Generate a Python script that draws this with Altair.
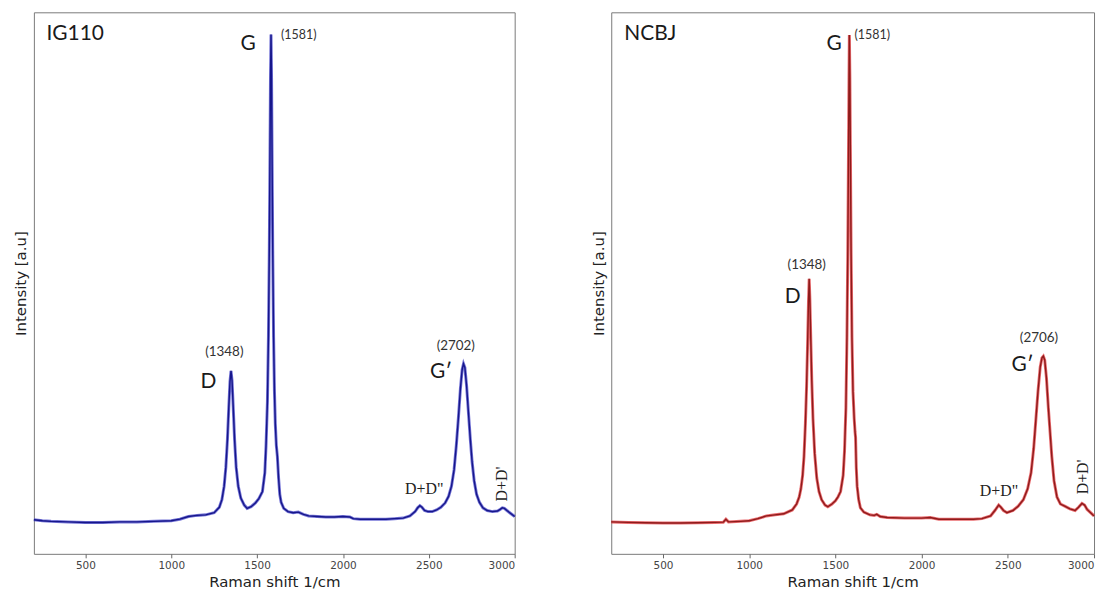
import altair as alt
import pandas as pd

# ---------------- data ----------------
ig110_shift = [200, 250, 300, 400, 500, 600, 700, 800, 900, 1000,
               1050, 1100, 1150, 1200, 1250, 1280, 1295, 1308, 1318, 1327,
               1335, 1342, 1348, 1354, 1361, 1369, 1378, 1390, 1405, 1425,
               1442, 1465, 1490, 1510, 1531, 1545, 1552, 1560, 1566, 1571,
               1575, 1578, 1581, 1584, 1587, 1591, 1596, 1601, 1606, 1612,
               1618, 1625, 1632, 1640, 1655, 1680, 1710, 1740, 1770, 1800,
               1850, 1900, 1950, 2000, 2040, 2060, 2100, 2150, 2200, 2250,
               2300, 2350, 2390, 2420, 2435, 2448, 2460, 2475, 2495, 2520,
               2545, 2570, 2595, 2615, 2632, 2647, 2660, 2672, 2684, 2694,
               2702, 2710, 2720, 2732, 2742, 2752, 2764, 2778, 2795, 2815,
               2840, 2870, 2900, 2915, 2928, 2940, 2955, 2975, 3000]
ig110_intensity = [6.3, 6.1, 6.0, 5.9, 5.8, 5.8, 5.9, 5.9, 6.0, 6.1,
                   6.4, 6.9, 7.1, 7.2, 7.6, 8.6, 10.0, 12.5, 16.0, 21.0,
                   27.0, 31.8, 33.8, 32.0, 27.0, 21.0, 16.0, 12.5, 10.3, 9.0,
                   8.4, 8.7, 9.4, 10.2, 11.5, 15.0, 20.0, 28.0, 40.0, 56.0,
                   74.0, 88.0, 95.9, 88.0, 74.0, 56.0, 40.0, 30.0, 24.0, 20.0,
                   18.0, 14.0, 11.0, 9.5, 8.4, 7.8, 7.6, 7.7, 7.3, 7.0,
                   6.9, 6.8, 6.8, 6.9, 6.8, 6.5, 6.4, 6.4, 6.4, 6.4,
                   6.5, 6.6, 7.0, 7.8, 8.5, 8.9, 8.6, 8.0, 7.8, 7.8,
                   8.1, 8.6, 9.4, 10.6, 12.5, 15.5, 20.0, 25.0, 30.5, 34.0,
                   35.1, 34.4, 31.0, 25.5, 21.0, 17.0, 13.5, 11.0, 9.5, 8.5,
                   8.0, 7.8, 7.9, 8.2, 8.5, 8.4, 8.0, 7.5, 6.9]

ncbj_shift = [200, 300, 400, 500, 600, 700, 800, 850, 865, 880,
              950, 1000, 1050, 1100, 1150, 1200, 1250, 1275, 1290, 1300,
              1310, 1318, 1326, 1333, 1339, 1344, 1348, 1352, 1357, 1363,
              1370, 1380, 1392, 1405, 1420, 1440, 1456, 1480, 1500, 1515,
              1530, 1545, 1553, 1561, 1567, 1572, 1576, 1579, 1581, 1584,
              1587, 1591, 1596, 1602, 1609, 1614, 1617, 1621, 1626, 1635,
              1645, 1665, 1700, 1725, 1740, 1760, 1800, 1900, 2000, 2050,
              2100, 2200, 2300, 2350, 2400, 2425, 2447, 2460, 2475, 2495,
              2530, 2560, 2590, 2615, 2635, 2650, 2662, 2675, 2688, 2698,
              2706, 2714, 2724, 2735, 2745, 2755, 2768, 2785, 2805, 2830,
              2860, 2890, 2910, 2930, 2945, 2960, 2980, 3000]
ncbj_intensity = [5.9, 5.8, 5.75, 5.7, 5.7, 5.75, 5.8, 5.85, 6.4, 5.9,
                  6.0, 6.1, 6.5, 7.0, 7.2, 7.4, 8.1, 9.2, 10.5, 12.0,
                  14.5, 18.0, 24.0, 31.0, 39.0, 46.5, 50.8, 47.0, 40.0, 32.0,
                  25.0, 18.5, 14.0, 11.5, 10.0, 9.0, 8.7, 9.2, 9.8, 10.5,
                  11.5, 14.5, 19.0, 27.0, 40.0, 56.0, 74.0, 88.0, 95.8, 88.0,
                  74.0, 56.0, 40.0, 30.0, 25.0, 22.5, 21.5, 16.0, 12.5, 10.0,
                  8.5, 7.7, 7.2, 7.1, 7.3, 6.9, 6.7, 6.6, 6.6, 6.7,
                  6.4, 6.4, 6.4, 6.5, 7.0, 8.0, 9.0, 8.6, 8.0, 7.6,
                  8.0, 8.8, 10.0, 12.0, 15.0, 19.5, 24.5, 30.0, 34.5, 36.2,
                  36.5, 35.8, 32.5, 27.0, 22.5, 18.0, 13.5, 10.5, 9.2, 8.8,
                  8.3, 8.0, 8.6, 9.3, 9.0, 8.2, 7.6, 7.0]

# annotation labels (text, anchor in data units, style group)
ig110_label_text = ["IG110", "G", "D", "G\u2032", "(1581)", "(1348)", "(2702)", "D+D\"", "D+D'"]
ig110_label_shift = [273, 1448, 1216, 2571, 1639, 1309, 2657, 2473, 2927]
ig110_label_int = [96.0, 94.1, 31.7, 33.5, 95.8, 37.2, 38.4, 11.9, 12.9]
ncbj_label_text = ["NCBJ", "G", "D", "G\u2032", "(1581)", "(1348)", "(2706)", "D+D\"", "D+D'"]
ncbj_label_shift = [276, 1493, 1253, 2586, 1611, 1334, 2681, 2449, 2935]
ncbj_label_int = [96.0, 94.1, 47.4, 34.9, 95.8, 53.4, 39.8, 11.6, 14.2]
label_kind = ["name", "peak", "peak", "peak", "pos_left", "pos", "pos", "serif", "serif_rot"]

x_ticks = [500, 1000, 1500, 2000, 2500, 3000]


def panel(shift, inten, lt, ls, li, halo, core, width):
    df = pd.DataFrame({"shift": shift, "intensity": inten})
    lab = pd.DataFrame({"shift": ls, "intensity": li, "text": lt, "kind": label_kind})

    x = alt.X("shift:Q",
              scale=alt.Scale(domain=[200, 3000], nice=False, zero=False),
              axis=alt.Axis(title="Raman shift 1/cm", values=x_ticks, format="d", grid=False,
                            domain=False, tickSize=4, tickColor="#666",
                            labelFont="DejaVu Sans", labelFontSize=10.5,
                            labelColor="#444", labelPadding=3,
                            titleFont="DejaVu Sans", titleFontSize=15,
                            titleFontWeight="normal", titleColor="#222",
                            titlePadding=3))
    y = alt.Y("intensity:Q",
              scale=alt.Scale(domain=[0, 100], nice=False, zero=False),
              axis=alt.Axis(title="Intensity [a.u]", labels=False, ticks=False,
                            grid=False, domain=False,
                            titleFont="DejaVu Sans", titleFontSize=15,
                            titleFontWeight="normal", titleColor="#222",
                            titlePadding=5))

    base = alt.Chart(df)
    halo_line = base.mark_line(color=halo, strokeWidth=3.0, opacity=0.75).encode(x=x, y=y)
    core_line = base.mark_line(color=core, strokeWidth=1.4).encode(x=x, y=y)

    lb = alt.Chart(lab)
    enc = dict(x=alt.X("shift:Q"), y=alt.Y("intensity:Q"), text="text:N")
    name_t = lb.transform_filter(alt.datum.kind == "name").mark_text(
        font="Lato", fontSize=21, align="left", baseline="middle", color="#1a1a1a").encode(**enc)
    peak_t = lb.transform_filter(alt.datum.kind == "peak").mark_text(
        font="Lato", fontSize=21, align="center", baseline="middle", color="#1a1a1a").encode(**enc)
    posl_t = lb.transform_filter(alt.datum.kind == "pos_left").mark_text(
        font="Lato", fontSize=12.5, align="left", baseline="middle", color="#333").encode(**enc)
    pos_t = lb.transform_filter(alt.datum.kind == "pos").mark_text(
        font="Lato", fontSize=13.5, align="center", baseline="middle", color="#333").encode(**enc)
    serif_t = lb.transform_filter(alt.datum.kind == "serif").mark_text(
        font="Liberation Serif", fontSize=16, align="center", baseline="middle", color="#222").encode(**enc)
    rot_t = lb.transform_filter(alt.datum.kind == "serif_rot").mark_text(
        font="Liberation Serif", fontSize=16, align="center", baseline="middle", angle=270,
        color="#222").encode(**enc)

    return alt.layer(halo_line, core_line, name_t, peak_t, posl_t, pos_t, serif_t, rot_t).properties(
        width=width, height=544)


left = panel(ig110_shift, ig110_intensity, ig110_label_text, ig110_label_shift, ig110_label_int,
             "#4646c8", "#16168a", 483)
right = panel(ncbj_shift, ncbj_intensity, ncbj_label_text, ncbj_label_shift, ncbj_label_int,
              "#e0393e", "#8e1b1b", 485)

chart = alt.hconcat(left, right, spacing=69).properties(
    padding={"left": 5, "top": 2, "right": 0, "bottom": 0},
    background="white"
).configure_view(stroke="#7a7a7a", strokeWidth=1)

chart.save("out.html", embed_options={"renderer": "svg", "actions": False})
